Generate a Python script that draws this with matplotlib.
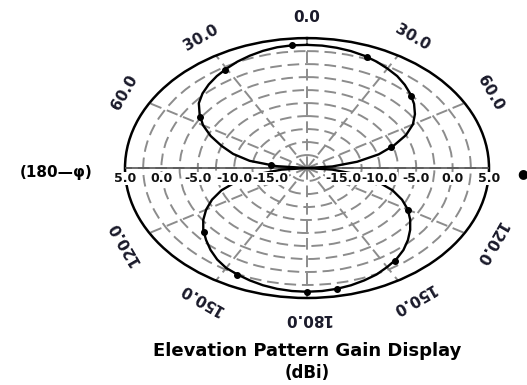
import numpy as np
import matplotlib
matplotlib.use("Agg")
import matplotlib.pyplot as plt

# Elevation pattern, angle measured clockwise from zenith (deg) and gain (dBi)
angles_deg = list(range(0, 360, 5))
gain_dbi = [3.7, 3.65, 3.5, 3.3, 3.0, 2.6, 2.1, 1.6, 0.9, 0.1, -0.8, -1.9,
            -3.2, -5.0, -7.3, -9.8, -13.0, -16.5, -20.0, -16.5, -13.0, -10.0, -7.5, -5.6,
            -4.0, -2.7, -1.5, -0.4, 0.6, 1.4, 2.0, 2.6, 3.0, 3.35, 3.6, 3.75,
            3.8, 3.75, 3.6, 3.35, 3.0, 2.6, 2.2, 1.5, 0.6, -0.4, -1.4, -2.6,
            -4.0, -5.6, -7.5, -10.0, -13.0, -16.5, -20.0, -15.8, -12.0, -9.5, -7.5, -5.4,
            -3.5, -2.0, -0.6, 0.3, 1.0, 1.6, 2.1, 2.6, 3.0, 3.35, 3.6, 3.7]

# Sample points marked on the trace
marker_deg = [276, 304, 329, 355, 21, 46, 71, 120, 146, 170, 180, 205, 229]
marker_dbi = [-15.0, -2.3, 2.0, 3.7, 2.92, -0.08, -7.8, -4.0, 1.5, 3.6, 3.8, 2.6, -1.2]

# Scale
r_min, r_max = -20.0, 5.0
ring_step = 2.5
scale_values = [5.0, 0.0, -5.0, -10.0, -15.0]
scale_labels = ["5.0", "0.0", "-5.0", "-10.0", "-15.0"]

# Angle annotations around the rim
angle_label_deg = [0, 30, 60, 120, 150, 180, -30, -60, -120, -150]
angle_label_txt = ["0.0", "30.0", "60.0", "120.0", "150.0", "180.0", "30.0", "60.0", "120.0", "150.0"]

title_txt = "Elevation Pattern Gain Display"
units_txt = "(dBi)"

fig = plt.figure(figsize=(5.27, 3.85), dpi=100)
ax = fig.add_axes([0.2372, 0.226, 0.6907, 0.675], projection="polar")
ax.set_aspect("auto")
ax.set_theta_zero_location("N")
ax.set_theta_direction(-1)
ax.set_rlim(r_min, r_max)
ax.set_rticks(np.arange(r_min + ring_step, r_max, ring_step))
ax.set_yticklabels([])
ax.set_xticks(np.radians(np.arange(0, 360, 30)))
ax.set_xticklabels([])
ax.grid(True, color="#8c8c8c", linestyle=(0, (6, 3)), linewidth=1.4)
ax.spines["polar"].set_linewidth(1.8)
ax.spines["polar"].set_color("black")

# horizon axis
for th in (np.pi / 2, 3 * np.pi / 2):
    ax.plot([th, th], [r_min, r_max], color="#555555", lw=1.2, zorder=3)

# pattern trace
th = np.radians(angles_deg + [angles_deg[0] + 360])
rr = gain_dbi + [gain_dbi[0]]
ax.plot(th, rr, color="black", lw=1.7, zorder=4)
ax.plot(np.radians(marker_deg), marker_dbi, "o", color="black", ms=4, zorder=5)

# rim labels
for d, t in zip(angle_label_deg, angle_label_txt):
    ax.text(np.radians(d), 9.0, t, rotation=-d, rotation_mode="anchor",
            ha="center", va="center", fontsize=11, fontweight="bold",
            color="#1a1a2a", clip_on=False)

# scale labels along the horizon
for side in (3 * np.pi / 2, np.pi / 2):
    for v, t in zip(scale_values, scale_labels):
        ax.annotate(t, xy=(side, v), xytext=(0, -3), textcoords="offset points",
                    ha="center", va="top", fontsize=9, fontweight="bold",
                    color="#111111", zorder=6, annotation_clip=False,
                    bbox=dict(boxstyle="square,pad=0.02", fc="white", ec="none"))

fig.text(0.106, 0.553, "(180—φ)", ha="center", va="center", fontsize=11, fontweight="bold")
fig.text(0.992, 0.55, "●", ha="center", va="center", fontsize=9, fontweight="bold")
fig.text(0.582, 0.088, title_txt, ha="center", va="center", fontsize=13, fontweight="bold")
fig.text(0.582, 0.031, units_txt, ha="center", va="center", fontsize=12, fontweight="bold")

fig.savefig("out.png", dpi=100)
